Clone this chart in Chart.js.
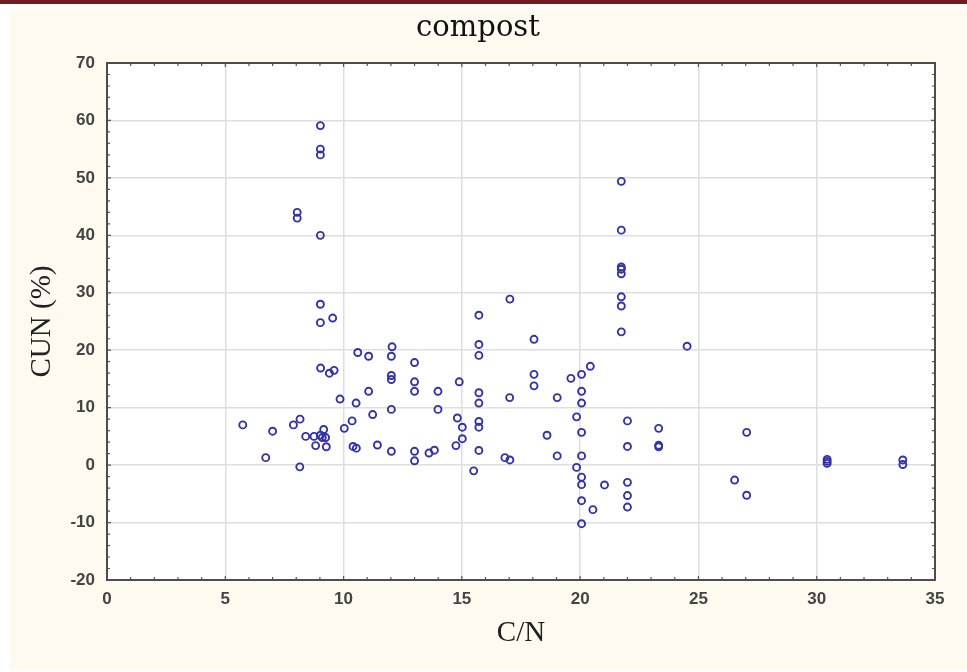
<!DOCTYPE html>
<html>
<head>
<meta charset="utf-8">
<script src="https://cdn.jsdelivr.net/npm/chart.js@4/dist/chart.umd.min.js"></script>
<style>
  body { margin: 0; background: #fff; }
  #band { position: absolute; left: 0; top: 0; width: 967px; height: 4px; background: #6b1f23; }
  #panel { position: absolute; left: 10px; top: 9px; width: 957px; height: 661px; background: #fffaef; }
  #chart { position: absolute; left: 0; top: 0; }
</style>
</head>
<body>
<div id="band"></div>
<div id="panel"></div>
<canvas id="chart" width="967" height="672"></canvas>
<script>
// C/N ratio (x) and CUN % (y), one entry per sample
const cnValues = [
  5.74, 6.71, 7.0, 7.88, 8.16, 8.15, 8.04, 8.04, 9.02, 9.02,
  9.02, 9.02, 9.02, 9.02, 9.54, 9.03, 9.4, 9.6, 8.4, 8.75,
  9.02, 9.1, 9.24, 8.82, 9.27, 9.16, 10.03, 10.36, 9.85, 10.53,
  10.4, 10.54, 10.6, 11.06, 11.06, 11.23, 11.43, 12.05, 12.02, 12.02,
  12.02, 12.02, 12.02, 13.0, 13.0, 13.0, 13.0, 13.0, 13.61, 13.84,
  13.99, 13.99, 14.75, 14.81, 14.89, 15.02, 15.02, 15.5, 15.72, 15.72,
  15.72, 15.72, 15.72, 15.72, 15.72, 15.72, 16.82, 17.03, 17.03, 17.02,
  18.05, 18.05, 18.05, 18.6, 19.03, 19.03, 19.61, 19.85, 19.85, 20.06,
  20.06, 20.06, 20.06, 20.06, 20.06, 20.06, 20.06, 20.06, 20.43, 20.54,
  21.03, 21.74, 21.74, 21.74, 21.74, 21.74, 21.74, 21.74, 21.74, 22.0,
  22.0, 22.0, 22.0, 22.0, 23.32, 23.32, 23.32, 24.52, 26.53, 27.04,
  27.04, 30.44, 30.44, 30.44, 33.64, 33.64
];
const cunValues = [
  7.0, 1.3, 5.9, 7.0, 8.0, -0.3, 44.0, 43.0, 59.1, 55.0,
  54.0, 40.0, 28.0, 24.8, 25.6, 16.9, 16.0, 16.5, 5.0, 5.0,
  5.2, 4.8, 4.8, 3.4, 3.2, 6.2, 6.4, 7.7, 11.5, 10.8,
  3.25, 2.95, 19.6, 18.95, 12.85, 8.8, 3.5, 20.6, 18.95, 15.6,
  14.9, 9.7, 2.4, 17.85, 14.5, 12.85, 2.4, 0.75, 2.1, 2.6,
  12.85, 9.7, 3.4, 8.2, 14.5, 4.6, 6.6, -1.0, 26.1, 21.0,
  19.1, 12.6, 10.8, 7.6, 6.6, 2.55, 1.3, 0.9, 28.9, 11.75,
  21.9, 15.8, 13.8, 5.2, 11.75, 1.6, 15.1, 8.4, -0.4, 15.8,
  12.85, 10.8, 5.7, 1.6, -2.1, -3.4, -6.2, -10.2, 17.2, -7.75,
  -3.45, 49.4, 40.9, 34.5, 34.1, 33.3, 29.3, 27.7, 23.2, 7.7,
  3.25, -3.0, -5.3, -7.3, 6.4, 3.45, 3.2, 20.7, -2.6, 5.7,
  -5.25, 1.0, 0.65, 0.3, 0.9, 0.1
];

const xMin = 0, xMax = 35, xStep = 5;
const yMin = -20, yMax = 70, yStep = 10;

const points = cnValues.map((x, i) => ({ x: x, y: cunValues[i] }));

// white plot area, frame and inward minor ticks on all four sides
const framePlugin = {
  id: 'frame',
  beforeDraw(chart) {
    const a = chart.chartArea;
    const ctx = chart.ctx;
    ctx.save();
    ctx.fillStyle = '#fff';
    ctx.fillRect(a.left, a.top, a.right - a.left, a.bottom - a.top);
    ctx.restore();
  },
  beforeDatasetsDraw(chart) {
    const a = chart.chartArea;
    const ctx = chart.ctx;
    const xs = chart.scales.x, ys = chart.scales.y;
    ctx.save();
    ctx.strokeStyle = '#555';
    ctx.lineWidth = 1.2;
    ctx.beginPath();
    for (let v = xMin; v <= xMax; v += 1) {
      const px = xs.getPixelForValue(v);
      const len = v % xStep === 0 ? 4 : 3;
      ctx.moveTo(px, a.bottom); ctx.lineTo(px, a.bottom - len);
      ctx.moveTo(px, a.top); ctx.lineTo(px, a.top + len);
    }
    for (let v = yMin; v <= yMax; v += 2) {
      const py = ys.getPixelForValue(v);
      const len = v % yStep === 0 ? 4 : 3;
      ctx.moveTo(a.left - 1, py); ctx.lineTo(a.left + len, py);
      ctx.moveTo(a.right + 1, py); ctx.lineTo(a.right - len, py);
    }
    ctx.stroke();
    ctx.strokeStyle = '#4d4d4d';
    ctx.lineWidth = 2;
    ctx.strokeRect(a.left, a.top, a.right - a.left, a.bottom - a.top);
    ctx.restore();
  }
};

new Chart(document.getElementById('chart'), {
  type: 'scatter',
  data: {
    datasets: [{
      data: points,
      pointRadius: 3.5,
      pointBorderWidth: 1.9,
      pointBorderColor: '#3232ac',
      pointBackgroundColor: 'rgba(255,255,255,0)'
    }]
  },
  options: {
    responsive: false,
    animation: false,
    layout: { padding: { left: 21, right: 32, top: 0, bottom: 0 } },
    plugins: {
      legend: { display: false },
      tooltip: { enabled: false },
      title: {
        display: true,
        text: 'compost',
        color: '#111',
        font: { family: 'DejaVu Serif', size: 29, weight: 'normal' },
        padding: { top: 10.6, bottom: 17.6 }
      }
    },
    scales: {
      x: {
        type: 'linear',
        min: xMin, max: xMax,
        afterFit(scale) { scale.height = 92; },
        ticks: {
          stepSize: xStep,
          padding: 9,
          color: '#444',
          font: { family: 'Liberation Sans', size: 17, weight: 'bold' }
        },
        grid: { color: '#dedede', lineWidth: 1.5, drawTicks: false },
        border: { display: false },
        title: {
          display: true,
          text: 'C/N',
          color: '#222',
          font: { family: 'Liberation Serif', size: 29 },
          padding: { top: 0, bottom: 21.6 }
        }
      },
      y: {
        min: yMin, max: yMax,
        afterFit(scale) { scale.width = 86; },
        ticks: {
          stepSize: yStep,
          padding: 12,
          color: '#444',
          font: { family: 'Liberation Sans', size: 17, weight: 'bold' }
        },
        grid: { color: '#dedede', lineWidth: 1.5, drawTicks: false },
        border: { display: false },
        title: {
          display: true,
          text: 'CUN (%)',
          color: '#222',
          font: { family: 'Liberation Serif', size: 29 },
          padding: { top: 3.6, bottom: 0 }
        }
      }
    }
  },
  plugins: [framePlugin]
});
</script>
</body>
</html>
